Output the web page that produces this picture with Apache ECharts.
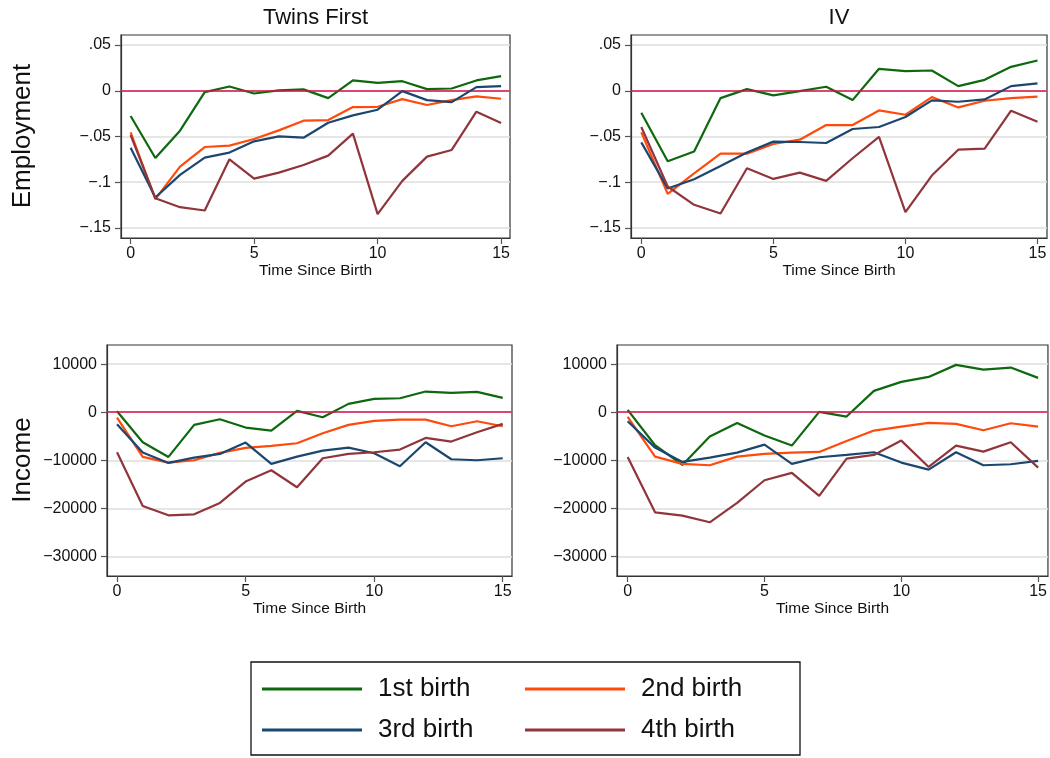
<!DOCTYPE html>
<html>
<head>
<meta charset="utf-8">
<script src="https://cdn.jsdelivr.net/npm/echarts@6/dist/echarts.min.js"></script>
<style>
html,body{margin:0;padding:0;background:#fff;}
#chart{width:1050px;height:758px;}
</style>
</head>
<body>
<div id="chart"></div>
<script>
// ---------- data ----------
const years = [0,1,2,3,4,5,6,7,8,9,10,11,12,13,14,15];
const seriesNames = ['1st birth','2nd birth','3rd birth','4th birth'];
const panelTitles = ['Twins First','IV'];
const rowLabels = ['Employment','Income'];
const xTicks = [0,5,10,15];
const empTicks = [-0.15,-0.1,-0.05,0,0.05];
const incTicks = [-30000,-20000,-10000,0,10000];
const xLabel = 'Time Since Birth';

// Employment, Twins First
const empTF1 = [-0.0276,-0.0735,-0.0436,-0.0015,0.0047,-0.003,0.0004,0.0015,-0.008,0.0113,0.0087,0.0105,0.0018,0.0025,0.0113,0.016];
const empTF2 = [-0.0455,-0.1185,-0.083,-0.0615,-0.06,-0.0527,-0.0433,-0.0327,-0.032,-0.0178,-0.0175,-0.0091,-0.0156,-0.0102,-0.0062,-0.0087];
const empTF3 = [-0.0622,-0.1167,-0.092,-0.0731,-0.0676,-0.0553,-0.0498,-0.0513,-0.0349,-0.0269,-0.0207,-0.0004,-0.0102,-0.0124,0.004,0.0051];
const empTF4 = [-0.0484,-0.1175,-0.1273,-0.1309,-0.0749,-0.096,-0.0895,-0.0811,-0.0709,-0.0469,-0.1349,-0.0985,-0.072,-0.0647,-0.0229,-0.0353];
// Employment, IV
const empIV1 = [-0.024,-0.0771,-0.0665,-0.008,0.0018,-0.0051,-0.0004,0.0044,-0.0102,0.024,0.0215,0.0222,0.0051,0.012,0.0262,0.0331];
const empIV2 = [-0.0455,-0.1127,-0.0902,-0.0687,-0.0687,-0.0582,-0.0535,-0.0375,-0.0375,-0.0215,-0.0262,-0.0069,-0.0182,-0.0109,-0.008,-0.0065];
const empIV3 = [-0.0564,-0.1069,-0.0967,-0.0822,-0.0676,-0.0556,-0.056,-0.0571,-0.0418,-0.0396,-0.0287,-0.0105,-0.012,-0.0095,0.0051,0.008];
const empIV4 = [-0.0396,-0.1047,-0.1247,-0.1342,-0.0847,-0.0964,-0.0895,-0.0985,-0.0738,-0.0505,-0.1327,-0.0927,-0.0644,-0.0633,-0.0218,-0.0338];
// Income, Twins First
const incTF1 = [208,-6250,-9306,-2639,-1458,-3194,-3819,278,-1042,1736,2778,2917,4306,4028,4236,2986];
const incTF2 = [-1111,-9306,-10486,-10000,-8472,-7431,-7014,-6458,-4375,-2639,-1806,-1528,-1528,-2917,-1875,-2917];
const incTF3 = [-2500,-8403,-10556,-9444,-8681,-6319,-10764,-9236,-7986,-7361,-8542,-11250,-6250,-9792,-10000,-9583];
const incTF4 = [-8333,-19514,-21458,-21250,-18889,-14444,-12083,-15625,-9583,-8681,-8333,-7778,-5347,-6111,-4167,-2431];
// Income, IV
const incIV1 = [486,-6875,-10972,-5069,-2222,-4861,-6944,69,-903,4444,6319,7361,9861,8889,9306,7153];
const incIV2 = [-972,-9236,-10764,-11042,-9236,-8681,-8403,-8264,-5972,-3819,-2986,-2222,-2431,-3750,-2292,-2986];
const incIV3 = [-1875,-7361,-10347,-9444,-8403,-6736,-10764,-9375,-8889,-8333,-10486,-11944,-8333,-11042,-10833,-10139];
const incIV4 = [-9306,-20833,-21528,-22917,-18889,-14167,-12639,-17431,-9653,-8889,-5903,-11389,-6944,-8194,-6250,-11528];

// ---------- layout / style ----------
const FONT = '"Liberation Sans", Arial, Helvetica, sans-serif';
const colors = ['#0e680e','#ff4a0c','#1b476f','#90353b'];
const zeroColor = '#d8124a';

const panels = [
  {grid:{left:121, top:35, width:389, height:203}, data:[empTF1,empTF2,empTF3,empTF4], ticks:empTicks, min:-0.161, max:0.061},
  {grid:{left:631, top:35, width:416, height:203}, data:[empIV1,empIV2,empIV3,empIV4], ticks:empTicks, min:-0.161, max:0.061},
  {grid:{left:107, top:345, width:405, height:231}, data:[incTF1,incTF2,incTF3,incTF4], ticks:incTicks, min:-34100, max:14000},
  {grid:{left:617, top:345, width:431, height:231}, data:[incIV1,incIV2,incIV3,incIV4], ticks:incTicks, min:-34100, max:14000}
];

function fmtY(v){
  if (v === 0) return '0';
  let s = String(Math.abs(v)).replace(/^0\./,'.');
  return (v < 0 ? '\u2212' : '') + s;
}

const grids = [], xAxes = [], yAxes = [], series = [];
panels.forEach((p, pi) => {
  grids.push(Object.assign({show:true, borderColor:'#333', borderWidth:1.2, backgroundColor:'#fff'}, p.grid));
  xAxes.push({
    type:'value', gridIndex:pi, min:-0.39, max:15.36, position:'bottom',
    name:xLabel, nameLocation:'middle', nameGap:25,
    nameTextStyle:{fontFamily:FONT, fontSize:15.5, color:'#111'},
    axisLine:{show:true, onZero:false, lineStyle:{color:'#333', width:1.2}},
    axisTick:{show:true, length:6, customValues:xTicks, lineStyle:{color:'#555', width:1.2}},
    axisLabel:{show:true, margin:8, customValues:xTicks, fontFamily:FONT, fontSize:16, color:'#111'},
    splitLine:{show:false}
  });
  yAxes.push({
    type:'value', gridIndex:pi, min:p.min, max:p.max, position:'left',
    axisLine:{show:true, onZero:false, lineStyle:{color:'#333', width:1.2}},
    axisTick:{show:true, length:6, customValues:p.ticks, lineStyle:{color:'#555', width:1.2}},
    axisLabel:{show:true, margin:10, customValues:p.ticks, fontFamily:FONT, fontSize:16, color:'#111', formatter:fmtY},
    splitLine:{show:true, lineStyle:{color:'#dedede', width:1.6}}
  });
  p.data.forEach((arr, k) => {
    const s = {
      type:'line', name:seriesNames[k], xAxisIndex:pi, yAxisIndex:pi,
      data: years.map((x,i)=>[x, arr[i]]),
      symbol:'none', showSymbol:false, z:3+k,
      lineStyle:{width:2.2, color:colors[k]}, itemStyle:{color:colors[k]},
      animation:false, silent:true
    };
    if (k === 0) {
      s.markLine = {silent:true, symbol:'none', animation:false, label:{show:false},
        lineStyle:{color:zeroColor, type:'solid', width:1.5}, data:[{yAxis:0}]};
    }
    series.push(s);
  });
});

const legendPos = [[262,674],[525,674],[262,715],[525,715]];
const legends = seriesNames.map((n,i)=>({
  data:[n], left:legendPos[i][0], top:legendPos[i][1], padding:0,
  icon:'rect', itemWidth:100, itemHeight:3, selectedMode:false,
  textStyle:{fontFamily:FONT, fontSize:26, color:'#111', lineHeight:30, padding:[0,0,0,11]}
}));

const graphics = [
  {type:'text', x:315.5, y:18, style:{text:panelTitles[0], font:'22px '+FONT, fill:'#111', align:'center', verticalAlign:'middle', textAlign:'center', textVerticalAlign:'middle'}},
  {type:'text', x:839, y:18, style:{text:panelTitles[1], font:'22px '+FONT, fill:'#111', align:'center', verticalAlign:'middle', textAlign:'center', textVerticalAlign:'middle'}},
  {type:'text', x:23, y:136, rotation:Math.PI/2, style:{text:rowLabels[0], font:'26px '+FONT, fill:'#111', align:'center', verticalAlign:'middle', textAlign:'center', textVerticalAlign:'middle'}},
  {type:'text', x:23, y:460, rotation:Math.PI/2, style:{text:rowLabels[1], font:'26px '+FONT, fill:'#111', align:'center', verticalAlign:'middle', textAlign:'center', textVerticalAlign:'middle'}},
  {type:'rect', shape:{x:251, y:662, width:549, height:93}, style:{fill:'none', stroke:'#111', lineWidth:1.3}, z:-1}
];

const chart = echarts.init(document.getElementById('chart'), null, {renderer:'canvas'});
chart.setOption({
  animation:false,
  backgroundColor:'#fff',
  grid:grids, xAxis:xAxes, yAxis:yAxes, series:series,
  legend:legends, graphic:graphics
});
</script>
</body>
</html>
